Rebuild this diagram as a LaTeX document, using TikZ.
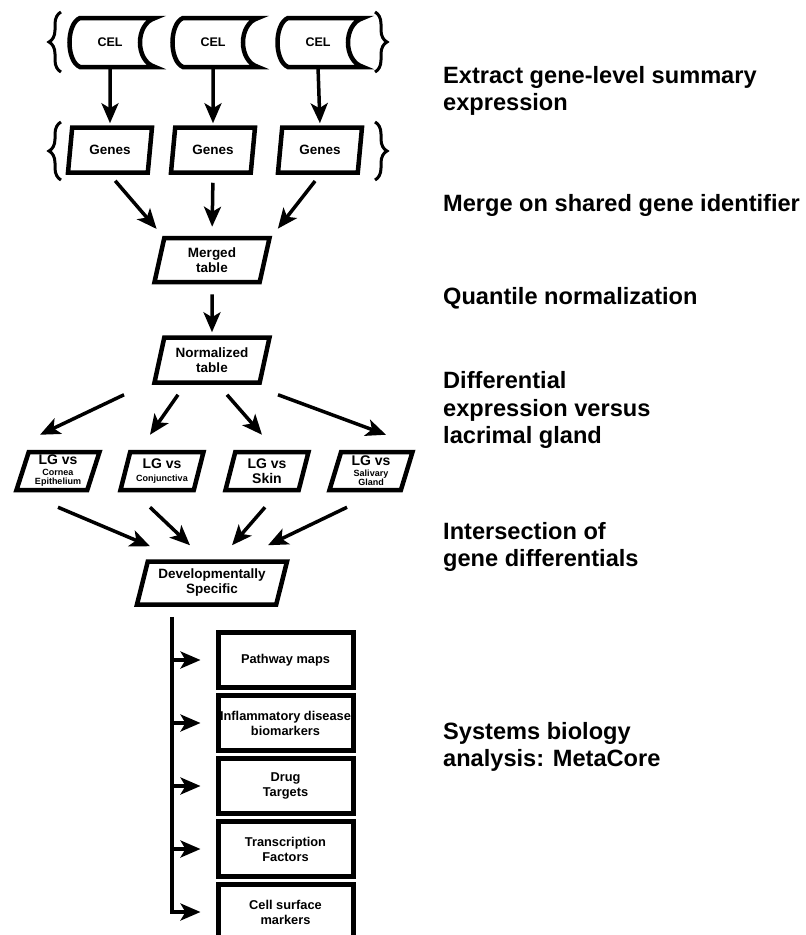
\documentclass[tikz,border=0pt]{standalone}
\usepackage{fontspec}
\setmainfont{Liberation Sans}
\usetikzlibrary{arrows.meta, positioning, shapes.geometric, decorations.pathreplacing, calc}
\newcommand{\lgsub}{\fontsize{9}{9}\selectfont}

\begin{document}
\begin{tikzpicture}[x=1pt, y=-1pt,
    font=\bfseries\fontsize{13.5}{15}\selectfont,
    data/.style={trapezium, trapezium left angle=70, trapezium right angle=110,
      trapezium stretches body, draw, line width=4.5pt, inner sep=1pt, align=center},
    result/.style={rectangle, draw, line width=5pt, minimum width=135pt,
      minimum height=55pt, inner sep=0pt, align=center, font=\bfseries\fontsize{12.8}{15}\selectfont},
    flow/.style={-{Stealth[length=20pt, width=17pt, inset=5pt]}, line width=3.5pt},
    curly/.style={decorate, decoration={brace, amplitude=12pt}, line width=3pt},
    stagetext/.style={anchor=west, align=left, inner sep=0pt,
      font=\bfseries\fontsize{23.6}{27.5}\selectfont}]

    \useasboundingbox (0,0) rectangle (806,935);

    % raw CEL files
    \foreach \cx [count=\i] in {110,213,318} {
      \node (cel\i) at (\cx,42) [minimum height=49pt, font=\bfseries\fontsize{12.5}{14}\selectfont] {CEL};
      \draw [line width=4.5pt] (\cx-30,18) .. controls (\cx-44,24) and (\cx-44,61) .. (\cx-30,67)
        -- (\cx+45,67) .. controls (\cx+25,61) and (\cx+25,24) .. (\cx+45,18) -- cycle;
    }
    \draw [curly] (61,72) -- (61,12);
    \draw [curly] (375,12) -- (375,72);

    % gene level tables
    \foreach \cx [count=\i] in {110,213,320}
      \node (g\i) [data, minimum width=84pt, minimum height=45pt] at (\cx,150) {Genes};
    \draw [curly] (61,180) -- (61,122);
    \draw [curly] (375,122) -- (375,180);

    \node (merged) [data, minimum width=115pt, minimum height=44pt] at (212,260) {Merged\\table};
    \node (norm) [data, minimum width=115pt, minimum height=45pt] at (212,360) {Normalized\\table};

    \node (lg1) [data, minimum width=83pt, minimum height=38pt, font=\bfseries\fontsize{14}{9}\selectfont] at (58,471)
      {LG vs\\[2pt]{\lgsub Cornea}\\{\lgsub Epithelium}};
    \node (lg2) [data, minimum width=83pt, minimum height=38pt, font=\bfseries\fontsize{14}{14}\selectfont] at (162,471)
      {LG vs\\[-1pt]{\lgsub Conjunctiva}};
    \node (lg3) [data, minimum width=83pt, minimum height=38pt, font=\bfseries\fontsize{14}{15}\selectfont] at (267,471)
      {LG vs\\Skin};
    \node (lg4) [data, minimum width=83pt, minimum height=38pt, font=\bfseries\fontsize{14}{9}\selectfont] at (371,471)
      {LG vs\\[2pt]{\lgsub Salivary}\\{\lgsub Gland}};

    \node (dev) [data, minimum width=150pt, minimum height=43pt] at (212,583) {Developmentally\\Specific};

    \foreach \txt [count=\i] in {{Pathway maps}, {Inflammatory disease\\biomarkers},
        {Drug\\Targets}, {Transcription\\Factors}, {Cell surface\\markers}}
      \node (r\i) [result] at (285.5,597+63*\i) {\txt};

    % connectors
    \foreach \i in {1,2,3}
      \draw [flow, shorten <=1pt, shorten >=2pt] (cel\i.south) -- (g\i.north);
    \draw [flow, shorten <=8pt, shorten >=9pt] (g1.south) -- (merged.top left corner);
    \draw [flow, shorten <=8pt, shorten >=9pt] (g2.south) -- (merged.north);
    \draw [flow, shorten <=8pt, shorten >=9pt] (g3.south) -- (merged.top right corner);
    \draw [flow, shorten <=10pt, shorten >=3pt] (merged.south) -- (norm.north);

    \draw [flow] ($(norm.south)+(-88,10)$) -- ($(lg1.north)+(-18,-15)$);
    \draw [flow] ($(norm.south)+(-34,10)$) -- ($(lg2.north)+(-12,-15)$);
    \draw [flow] ($(norm.south)+(15,10)$) -- ($(lg3.north)+(-5,-15)$);
    \draw [flow] ($(norm.south)+(66,10)$) -- ($(lg4.north)+(15,-15)$);

    \draw [flow] ($(lg1.south)+(0,15)$) -- ($(dev.north)+(-62,-13)$);
    \draw [flow] ($(lg2.south)+(-12,15)$) -- ($(dev.north)+(-22,-14)$);
    \draw [flow] ($(lg3.south)+(-2,15)$) -- ($(dev.north)+(20,-14)$);
    \draw [flow] ($(lg4.south)+(-24,15)$) -- ($(dev.north)+(56,-14)$);

    \coordinate (trunk) at ($(dev.south)+(-40,10)$);
    \draw [flow, shorten >=15pt] (trunk) -- (trunk |- r5) -- (r5.west);
    \foreach \i in {1,...,4}
      \draw [flow, shorten >=15pt] (trunk |- r\i) -- (r\i.west);

    % stage descriptions
    \node (extract) [stagetext] at (443,91) {Extract gene-level summary\\expression};
    \node (merge) [stagetext] at (443,205) {Merge on shared gene identifier};
    \node (quantile) [stagetext] at (443,298) {Quantile normalization};
    \node (diffexpr) [stagetext] at (443,410) {Differential\\expression versus\\lacrimal gland};
    \node (intersect) [stagetext] at (443,547) {Intersection of\\gene differentials};
    \node (sysbio) [stagetext] at (443,747) {Systems biology\\analysis: MetaCore};
\end{tikzpicture}
\end{document}
